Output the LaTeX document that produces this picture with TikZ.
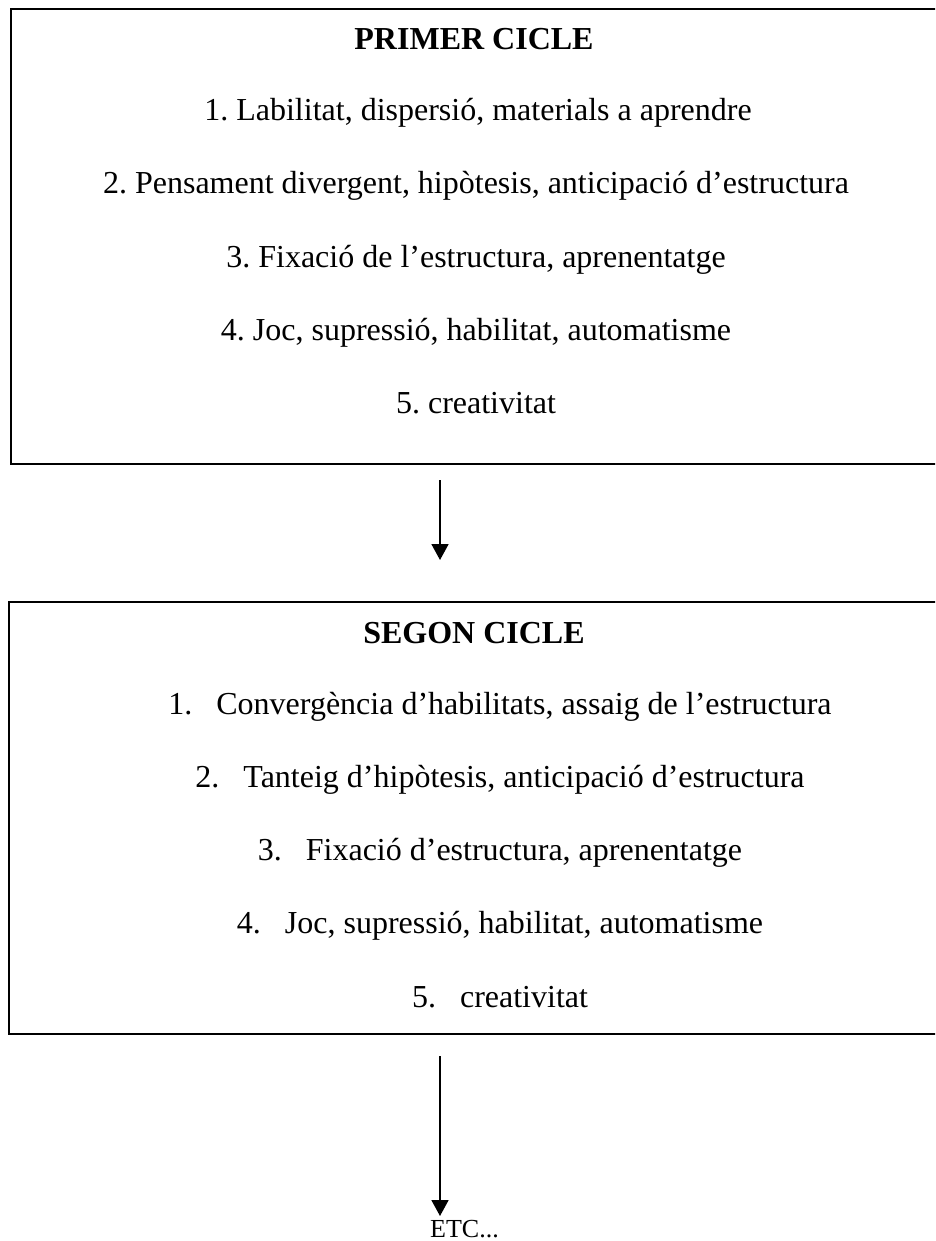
\documentclass[tikz,border=0pt]{standalone}
\usepackage{fontspec}
\setmainfont{Liberation Serif}
\frenchspacing
\usetikzlibrary{arrows.meta}
\tikzset{
  cyclebox/.style={draw=black, line width=2.4pt, rectangle, inner sep=0pt},
  txt/.style={anchor=base, inner sep=0pt, font=\fontsize{32}{36}\selectfont},
  ttl/.style={anchor=base, inner sep=0pt, font=\fontsize{32}{36}\selectfont\bfseries},
  flow/.style={line width=1.8pt, -{Triangle[width=17pt,length=16pt]}}
}
\newcommand{\numb}[1]{\makebox[48pt][l]{#1}}
\begin{document}
\begin{tikzpicture}[x=1pt,y=-1pt]
\useasboundingbox (0,0) rectangle (935,1241);
\clip (0,0) rectangle (935,1241);
% boxes
\node[cyclebox, minimum width=930pt, minimum height=455pt, anchor=north west] (b1) at (10,8) {};
\node[cyclebox, minimum width=932pt, minimum height=432pt, anchor=north west] (b2) at (8,601) {};
% first cycle
\node[ttl] (t1) at (474,50) {PRIMER CICLE};
\node[txt] (p1) at (478,121) {1. Labilitat, dispersió, materials a aprendre};
\node[txt] (p2) at (476,194) {2. Pensament divergent, hipòtesis, anticipació d’estructura};
\node[txt] (p3) at (476,267) {3. Fixació de l’estructura, aprenentatge};
\node[txt] (p4) at (476,340) {4. Joc, supressió, habilitat, automatisme};
\node[txt] (p5) at (476,413) {5. creativitat};
% second cycle
\node[ttl] (t2) at (474,643) {SEGON CICLE};
\node[txt] (s1) at (500,714) {\numb{1.}Convergència d’habilitats, assaig de l’estructura};
\node[txt] (s2) at (500,787) {\numb{2.}Tanteig d’hipòtesis, anticipació d’estructura};
\node[txt] (s3) at (500,860) {\numb{3.}Fixació d’estructura, aprenentatge};
\node[txt] (s4) at (500,933) {\numb{4.}Joc, supressió, habilitat, automatisme};
\node[txt] (s5) at (500,1007) {\numb{5.}creativitat};
% arrows
\coordinate (a1s) at (440,480);
\coordinate (a1e) at (440,560);
\coordinate (a2s) at (440,1056);
\coordinate (a2e) at (440,1216);
\draw[flow] (a1s) -- (a1e);
\draw[flow] (a2s) -- (a2e);
\node[anchor=base west, inner sep=0pt, font=\fontsize{26}{30}\selectfont] (etc) at (430,1237) {ETC...};
\end{tikzpicture}
\end{document}
